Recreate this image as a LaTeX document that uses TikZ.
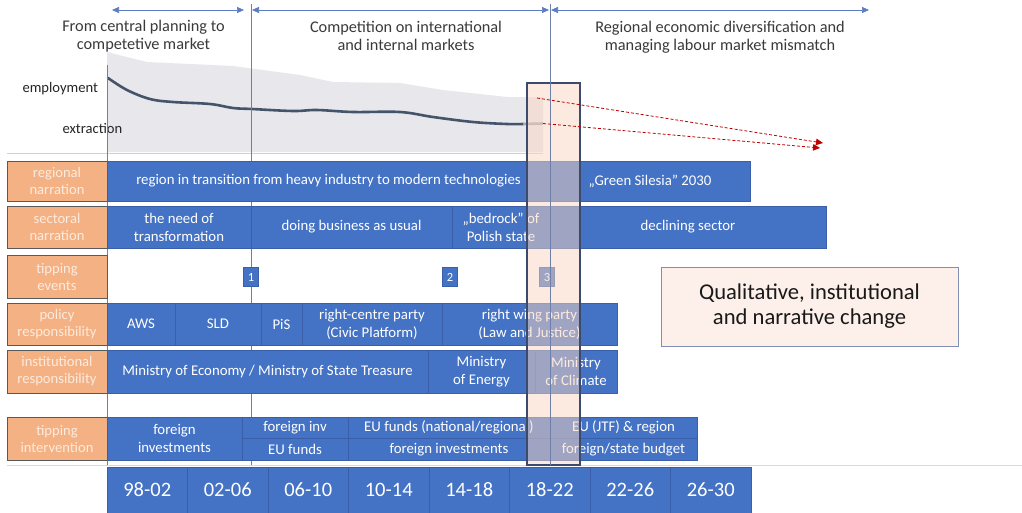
\documentclass[tikz,border=0pt]{standalone}
\usepackage{fontspec}
\setmainfont{Carlito}
\usetikzlibrary{arrows.meta}
\definecolor{cblue}{HTML}{4472C4}
\definecolor{cdiv}{HTML}{3A5FA8}
\definecolor{corange}{HTML}{F4B183}
\definecolor{clabtxt}{HTML}{FCEBDF}
\definecolor{cgreyarea}{HTML}{E8E7EB}
\definecolor{ccurve}{HTML}{44546A}
\definecolor{cvline}{HTML}{6F80A8}
\definecolor{chead}{HTML}{3A3A3A}
\definecolor{cpeach}{HTML}{FAD7C2}
\definecolor{covborder}{HTML}{3C4A6E}
\definecolor{cqfill}{HTML}{FDF0EA}
\definecolor{cqborder}{HTML}{7F8FB5}
\definecolor{cred}{HTML}{C00000}
\definecolor{carrow}{HTML}{5B7CC4}
\newcommand{\cell}[7][cellbox]{\node[#1, minimum width={#5-#3}, minimum height={#6-#4}] (#2) at ({(#3+#5)/2},{(#4+#6)/2}) {#7};}
\begin{document}
\begin{tikzpicture}[x=1pt,y=-1pt,
  cellbox/.style={draw=cdiv, line width=0.6pt, fill=cblue, text=white, inner sep=1pt, outer sep=0pt, align=center, font=\fontsize{14.8}{18}\selectfont},
  yearbox/.style={cellbox, font=\fontsize{20.5}{22}\selectfont},
  labbox/.style={draw=gray!70!black, line width=0.6pt, fill=corange, text=clabtxt, inner sep=1pt, outer sep=0pt, align=center, font=\fontsize{14.6}{17}\selectfont},
  evbox/.style={draw=cdiv, line width=0.6pt, fill=cblue, text=white, minimum width=15pt, minimum height=19pt, inner sep=0pt, font=\fontsize{12.5}{14}\selectfont},
  headtxt/.style={text=chead, align=center, font=\fontsize{16.3}{18.5}\selectfont},
  sidetxt/.style={text=black!85, font=\fontsize{14.6}{17}\selectfont, anchor=west},
  vline/.style={draw=cvline, line width=0.8pt},
  toparrow/.style={draw=carrow, line width=0.7pt, {Triangle[width=6pt,length=7pt]}-{Triangle[width=6pt,length=7pt]}},
  redarrow/.style={draw=cred, line width=0.8pt, densely dashed, -{Triangle[width=6.5pt,length=7pt]}},
  overlaybox/.style={draw=covborder, line width=1.1pt, fill=cpeach, fill opacity=0.5, inner sep=0pt, outer sep=0pt},
  qbox/.style={draw=cqborder, line width=1pt, fill=cqfill, text=black!90, align=center, font=\fontsize{22.6}{25}\selectfont}
]
\useasboundingbox (0,0) rectangle (1022,512);
\fill[white] (0,0) rectangle (1022,512);

% grey area and curve
\fill[cgreyarea] (107,52) -- (147,62) -- (233,66) -- (300,75) -- (333,82) -- (400,83) -- (443,90) -- (507,97) -- (543,97) -- (543,152) -- (107,152) -- cycle;
\draw[draw=black!15!blue!20, line width=0.6pt] (7,153) -- (543,153);
\draw[ccurve, line width=2.6pt, line cap=round] plot[smooth, tension=0.6] coordinates {(108,78) (127,90) (150,99) (173,102) (210,104) (233,108) (252,109) (293,111) (317,110) (353,112) (400,112) (433,117) (473,122) (507,124) (523,124)};
\draw[black!35, line width=2.6pt] (523,124) -- (543,123.5);
\node[sidetxt] (emp) at (19,89) {employment};
\node[sidetxt] (ext) at (59,129) {extraction};

% vertical lines behind
\coordinate (v1t) at (107,65); \coordinate (v1b) at (107,465);
\coordinate (v2t) at (251,4); \coordinate (v2b) at (251,465);
\draw[vline] (v1t) -- (v1b);
\draw[vline] (v2t) -- (v2b);

% top arrows and headings
\coordinate (a1l) at (112,10); \coordinate (a1r) at (244,10);
\coordinate (a2l) at (252,10); \coordinate (a2r) at (549,10);
\coordinate (a3l) at (551,10); \coordinate (a3r) at (869,10);
\draw[toparrow] (a1l) -- (a1r);
\draw[toparrow] (a2l) -- (a2r);
\draw[toparrow] (a3l) -- (a3r);
\node[headtxt] (h1) at (143.5,36) {From central planning to\\competetive market};
\node[headtxt] (h2) at (406,36) {Competition on international\\and internal markets};
\node[headtxt] (h3) at (720,37) {Regional economic diversification and\\managing labour market mismatch};

% light base line
\draw[draw=black!15, line width=0.8pt] (7,465.5) -- (1022,465.5);

% labels
\cell[labbox]{l1}{7}{161}{107}{201}{regional\\narration}
\cell[labbox]{l2}{7}{206}{107}{248}{sectoral\\narration}
\cell[labbox]{l3}{7}{255}{107}{298}{tipping\\events}
\cell[labbox]{l4}{7}{303}{107}{345}{policy\\responsibility}
\cell[labbox]{l5}{7}{350}{107}{393}{institutional\\responsibility}
\cell[labbox]{l6}{7}{417}{107}{460}{tipping\\intervention}

% regional narration
\cell{r1a}{107}{161}{550}{201}{region in transition from heavy industry to modern technologies}
\cell{r1b}{550}{161}{750}{201}{„Green Silesia” 2030}
% sectoral narration
\cell{r2a}{107}{206}{251}{248}{the need of\\transformation}
\cell{r2b}{251}{206}{452}{248}{doing business as usual}
\cell{r2c}{452}{206}{550}{248}{„bedrock” of\\Polish state}
\cell{r2d}{550}{206}{826}{248}{declining sector}
% tipping events
\node[evbox] (e1) at (251,277) {1};
\node[evbox] (e2) at (450,277) {2};
\node[evbox] (e3) at (547,277) {3};
% policy responsibility
\cell{r4a}{107}{303}{175}{345}{AWS}
\cell{r4b}{175}{303}{261}{345}{SLD}
\cell{r4c}{261}{303}{302}{345}{PiS}
\cell{r4d}{302}{303}{442}{345}{right-centre party\\(Civic Platform)}
\cell{r4e}{442}{303}{617}{345}{right wing party\\(Law and Justice)}
% institutional responsibility
\cell{r5a}{107}{350}{428}{393}{Ministry of Economy / Ministry of State Treasure}
\cell{r5b}{428}{350}{535}{393}{Ministry\\of Energy}
\cell{r5c}{535}{350}{617}{393}{Ministry\\of Climate}
% tipping intervention
\cell{r6a}{107}{417}{242}{460}{foreign\\investments}
\cell{r6b}{242}{417}{348}{438.5}{foreign inv}
\cell{r6c}{348}{417}{550}{438.5}{EU funds (national/regional)}
\cell{r6d}{550}{417}{697}{438.5}{EU (JTF) \& region}
\cell{r6e}{242}{438.5}{348}{460}{EU funds}
\cell{r6f}{348}{438.5}{550}{460}{foreign investments}
\cell{r6g}{550}{438.5}{697}{460}{foreign/state budget}
% years
\cell[yearbox]{y1}{107}{467}{187.5}{513}{98-02}
\cell[yearbox]{y2}{187.5}{467}{268}{513}{02-06}
\cell[yearbox]{y3}{268}{467}{348.5}{513}{06-10}
\cell[yearbox]{y4}{348.5}{467}{429}{513}{10-14}
\cell[yearbox]{y5}{429}{467}{509.5}{513}{14-18}
\cell[yearbox]{y6}{509.5}{467}{590}{513}{18-22}
\cell[yearbox]{y7}{590}{467}{670.5}{513}{22-26}
\cell[yearbox]{y8}{670.5}{467}{751}{513}{26-30}

% overlay highlight
\node[overlaybox, minimum width=53pt, minimum height=382pt] (ov) at (553.5,274) {};
\coordinate (v3t) at (550,4); \coordinate (v3b) at (550,465);
\draw[vline] (v3t) -- (v3b);

% red dashed arrows
\coordinate (rs1) at (537,98); \coordinate (re1) at (823,143);
\coordinate (rs2) at (543,123.5); \coordinate (re2) at (820,148);
\draw[redarrow] (rs1) -- (re1);
\draw[redarrow] (rs2) -- (re2);

% qualitative box
\node[qbox, minimum width=297pt, minimum height=79pt] (q) at (809.5,306.5) {Qualitative, institutional\\and narrative change};
\end{tikzpicture}
\end{document}
